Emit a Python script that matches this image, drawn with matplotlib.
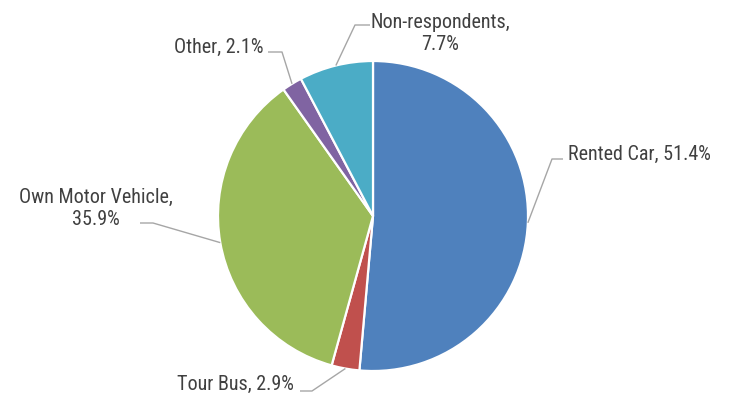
import numpy as np
import matplotlib
matplotlib.use("Agg")
import matplotlib.pyplot as plt
from matplotlib.patches import Wedge

categories = ["Rented Car", "Tour Bus", "Own Motor Vehicle", "Other", "Non-respondents"]
shares = [51.4, 2.9, 35.9, 2.1, 7.7]
colors = ["#4F81BD", "#C0504D", "#9BBB59", "#8064A2", "#4BACC6"]
label_texts = ["Rented Car, 51.4%", "Tour Bus, 2.9%", "Own Motor Vehicle,\n35.9%",
               "Other, 2.1%", "Non-respondents,\n7.7%"]

W, H = 730, 394
cx, cy, R = 373, 216, 155  # pie centre and radius in pixels

fig = plt.figure(figsize=(W / 100, H / 100), dpi=100)
ax = fig.add_axes([0, 0, 1, 1])
ax.set_xlim(0, W)
ax.set_ylim(H, 0)
ax.axis("off")

# wedges clockwise from 12 o'clock (y axis points down in this frame)
total = sum(shares)
start = 90.0
mids = []
for s, c in zip(shares, colors):
    sweep = 360.0 * s / total
    t1, t2 = start - sweep, start
    ax.add_patch(Wedge((cx, cy), R, -t2, -t1, facecolor=c,
                       edgecolor="white", linewidth=1.6))
    mids.append(start - sweep / 2)
    start -= sweep

font = dict(family=["Roboto Condensed", "Liberation Sans", "DejaVu Sans"],
            size=14.5, color="#404040")
line_kw = dict(color="#A6A6A6", linewidth=1.0, solid_capstyle="butt")

# elbow point, end of leader, text anchor (baseline of last line), alignment
layout = [
    ((552, 159), (563, 159), (568, 160), "left"),
    ((312, 391), (300, 391), (294, 390), "right"),
    ((153, 223), (140, 223), (96, 225), "center"),
    ((282, 52), (268, 52), (263, 53), "right"),
    ((355, 25), (370, 25), (440, 50), "center"),
]

for ang, (elbow, end, tpos, ha), txt in zip(mids, layout, label_texts):
    a = np.deg2rad(ang)
    ex, ey = cx + R * np.cos(a), cy - R * np.sin(a)
    ax.plot([ex, elbow[0], end[0]], [ey, elbow[1], end[1]], **line_kw)
    ax.text(tpos[0], tpos[1], txt, ha=ha, va="baseline", multialignment="center",
            linespacing=1.2, **font)

fig.savefig("out.png", dpi=100)
